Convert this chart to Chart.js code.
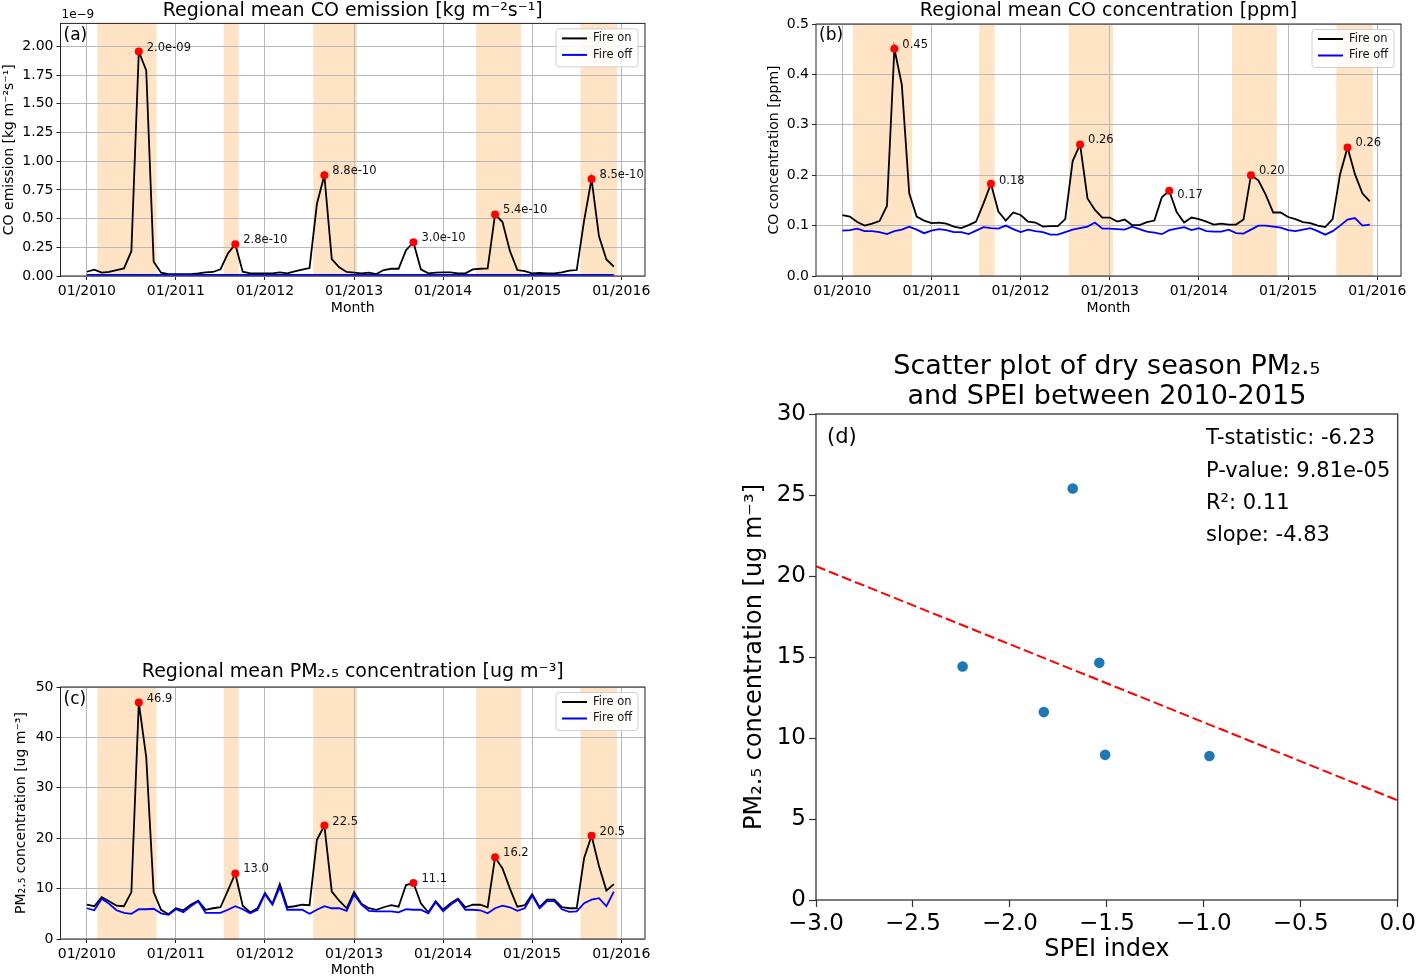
<!DOCTYPE html>
<html><head><meta charset="utf-8">
<script src="https://cdn.jsdelivr.net/npm/chart.js@4.4.1/dist/chart.umd.min.js"></script>
<style>
html,body{margin:0;padding:0;background:#fff;overflow:hidden;width:1419px;height:979px;}
canvas{position:absolute;}
</style></head><body>
<canvas id="ca" width="680" height="320" style="left:0px;top:0px;width:680px;height:320px"></canvas>
<canvas id="cb" width="679" height="320" style="left:740px;top:0px;width:679px;height:320px"></canvas>
<canvas id="cc" width="680" height="319" style="left:0px;top:660px;width:680px;height:319px"></canvas>
<canvas id="cd" width="699" height="639" style="left:720px;top:340px;width:699px;height:639px"></canvas>
<script>
// ---------- shared time axis ----------
const monthTicks = [0, 12, 24, 36, 48, 60, 72];
const monthTickLabels = ['01/2010','01/2011','01/2012','01/2013','01/2014','01/2015','01/2016'];
const drySeasonStart = [1.42, 18.42, 30.5, 52.45, 66.5];
const drySeasonEnd   = [9.4, 20.48, 36.42, 58.5, 71.42];
const peakIndex = [7, 20, 32, 44, 55, 68];

// ---------- (a) CO emission, units of 1e-9 kg m-2 s-1 ----------
const coEmisFireOn = [
  0.037,0.055,0.029,0.035,0.052,0.066,0.216,1.955,1.790,0.124,0.029,0.017,
  0.017,0.017,0.017,0.023,0.032,0.035,0.058,0.196,0.277,0.037,0.023,0.023,
  0.023,0.023,0.032,0.023,0.040,0.055,0.069,0.629,0.877,0.147,0.075,0.035,
  0.030,0.023,0.029,0.017,0.052,0.063,0.063,0.225,0.294,0.058,0.023,0.029,
  0.032,0.032,0.023,0.023,0.058,0.063,0.066,0.536,0.470,0.219,0.052,0.043,
  0.023,0.026,0.023,0.023,0.032,0.046,0.052,0.484,0.845,0.346,0.144,0.081];
const coEmisFireOff = [
  0.010,0.010,0.010,0.010,0.010,0.010,0.010,0.010,0.010,0.010,0.010,0.010,
  0.010,0.010,0.010,0.010,0.010,0.010,0.010,0.010,0.010,0.010,0.010,0.010,
  0.010,0.010,0.010,0.010,0.010,0.010,0.010,0.010,0.010,0.010,0.010,0.010,
  0.010,0.010,0.010,0.010,0.010,0.010,0.010,0.010,0.010,0.010,0.010,0.010,
  0.010,0.010,0.010,0.010,0.010,0.010,0.010,0.010,0.010,0.010,0.010,0.010,
  0.010,0.010,0.010,0.010,0.010,0.010,0.010,0.010,0.010,0.010,0.010,0.010];
const coEmisPeakLabels = ['2.0e-09','2.8e-10','8.8e-10','3.0e-10','5.4e-10','8.5e-10'];
const coEmisTicks = [0,0.25,0.5,0.75,1.0,1.25,1.5,1.75,2.0];

// ---------- (b) CO concentration, ppm ----------
const coConcFireOn = [
  0.121,0.118,0.107,0.100,0.104,0.109,0.139,0.451,0.380,0.164,0.118,0.110,
  0.105,0.106,0.104,0.098,0.095,0.101,0.108,0.144,0.183,0.128,0.110,0.126,
  0.121,0.108,0.106,0.098,0.099,0.099,0.113,0.228,0.261,0.154,0.131,0.116,
  0.116,0.108,0.112,0.101,0.101,0.107,0.110,0.156,0.169,0.127,0.106,0.116,
  0.113,0.108,0.102,0.104,0.102,0.102,0.112,0.200,0.190,0.161,0.126,0.126,
  0.117,0.113,0.107,0.105,0.100,0.097,0.113,0.202,0.255,0.202,0.164,0.148];
const coConcFireOff = [
  0.090,0.091,0.094,0.089,0.089,0.087,0.083,0.089,0.092,0.098,0.092,0.085,
  0.090,0.093,0.091,0.087,0.087,0.083,0.090,0.097,0.095,0.094,0.100,0.093,
  0.087,0.092,0.089,0.087,0.082,0.082,0.087,0.092,0.095,0.098,0.106,0.094,
  0.094,0.093,0.092,0.098,0.093,0.088,0.086,0.083,0.091,0.094,0.097,0.091,
  0.095,0.089,0.088,0.088,0.092,0.085,0.084,0.092,0.100,0.100,0.098,0.096,
  0.091,0.089,0.092,0.095,0.089,0.082,0.089,0.100,0.112,0.115,0.100,0.102];
const coConcPeakLabels = ['0.45','0.18','0.26','0.17','0.20','0.26'];
const coConcTicks = [0,0.1,0.2,0.3,0.4,0.5];

// ---------- (c) PM2.5 concentration, ug m-3 ----------
const pmFireOn = [
  6.8,6.5,8.3,7.5,6.6,6.5,9.3,46.9,36.1,9.3,5.8,4.9,
  6.1,5.7,6.8,7.6,5.8,6.1,6.3,9.6,13.0,6.6,5.3,6.1,
  9.1,7.0,10.9,6.3,6.5,6.8,6.7,19.7,22.5,9.4,7.6,6.1,
  9.3,7.0,6.1,5.8,6.3,6.7,6.4,10.7,11.1,7.1,5.3,7.5,
  5.8,7.1,8.0,6.3,6.8,6.8,6.3,16.2,14.0,10.0,6.4,6.7,
  8.9,6.3,7.8,7.8,6.3,6.1,6.1,16.1,20.5,14.5,9.6,10.9];
const pmFireOff = [
  6.1,5.7,8.0,7.0,5.7,5.2,5.0,5.9,5.9,6.0,5.1,4.8,
  5.9,5.3,6.5,7.5,5.2,5.2,5.2,5.8,6.5,5.9,5.1,5.8,
  8.9,6.8,10.3,5.8,5.8,5.8,5.0,5.8,6.5,6.1,6.1,5.6,
  8.8,6.8,5.6,5.5,5.5,5.5,5.3,5.9,5.8,5.8,5.1,7.3,
  5.5,6.8,7.8,5.8,5.8,5.7,5.1,6.1,6.6,6.3,5.6,6.1,
  8.6,6.1,7.5,7.5,5.9,5.4,5.5,7.1,7.8,8.1,6.5,9.4];
const pmPeakLabels = ['46.9','13.0','22.5','11.1','16.2','20.5'];
const pmTicks = [0,10,20,30,40,50];

// ---------- (d) scatter PM2.5 vs SPEI ----------
const speiIndex = [-1.676, -2.244, -1.539, -1.825, -1.509, -0.971];
const dryPm = [25.4, 14.41, 14.64, 11.6, 8.96, 8.89];
const fitX = [-3.0, 0.0];
const fitY = [20.6, 6.15];
const statLines = ['T-statistic: -6.23', 'P-value: 9.81e-05', 'R\u00b2: 0.11', 'slope: -4.83'];
const speiTicks = [-3.0,-2.5,-2.0,-1.5,-1.0,-0.5,0.0];
const scatterYTicks = [0,5,10,15,20,25,30];

Chart.defaults.font.family = "'DejaVu Sans', sans-serif";
Chart.defaults.color = '#000';

function drawSpines(ctx, ca, color, lw){
  ctx.save(); ctx.strokeStyle = color; ctx.lineWidth = lw;
  ctx.strokeRect(ca.left, ca.top, ca.right - ca.left, ca.bottom - ca.top);
  ctx.restore();
}

function decor(o){
  return {
    id: 'decor',
    beforeDraw(chart){
      if (!o.bands) return;
      const ctx = chart.ctx, ca = chart.chartArea, x = chart.scales.x;
      ctx.save(); ctx.fillStyle = 'rgb(254,228,196)';
      for (let i = 0; i < drySeasonStart.length; i++){
        const a = x.getPixelForValue(drySeasonStart[i]);
        const b = x.getPixelForValue(drySeasonEnd[i]);
        ctx.fillRect(a, ca.top, b - a, ca.bottom - ca.top);
      }
      ctx.restore();
    },
    afterDatasetsDraw(chart){
      if (!o.peakLabels) return;
      const ctx = chart.ctx, x = chart.scales.x, y = chart.scales.y;
      ctx.save(); ctx.fillStyle = '#111'; ctx.font = "11.5px 'DejaVu Sans'";
      ctx.textBaseline = 'middle'; ctx.textAlign = 'left';
      peakIndex.forEach((idx, k) => {
        const px = x.getPixelForValue(idx), py = y.getPixelForValue(o.on[idx]);
        ctx.fillText(o.peakLabels[k], px + 8, py + o.labelDy[k]);
      });
      ctx.restore();
    },
    afterDraw(chart){
      const ctx = chart.ctx, ca = chart.chartArea;
      drawSpines(ctx, ca, o.spineColor || '#222', o.spineWidth || 1);
      ctx.save();
      if (o.legend){
        const bw = 82, bh = 38, bx = ca.right - 7 - bw, by = ca.top + 5.5, r = 3;
        ctx.beginPath();
        ctx.moveTo(bx + r, by); ctx.lineTo(bx + bw - r, by); ctx.quadraticCurveTo(bx + bw, by, bx + bw, by + r);
        ctx.lineTo(bx + bw, by + bh - r); ctx.quadraticCurveTo(bx + bw, by + bh, bx + bw - r, by + bh);
        ctx.lineTo(bx + r, by + bh); ctx.quadraticCurveTo(bx, by + bh, bx, by + bh - r);
        ctx.lineTo(bx, by + r); ctx.quadraticCurveTo(bx, by, bx + r, by); ctx.closePath();
        ctx.fillStyle = 'rgba(255,255,255,0.85)'; ctx.fill();
        ctx.strokeStyle = '#d0d0d0'; ctx.lineWidth = 1; ctx.stroke();
        const items = chart.data.datasets.filter(d => d.inLegend);
        ctx.font = "11.5px 'DejaVu Sans'"; ctx.textBaseline = 'middle'; ctx.textAlign = 'left';
        items.forEach((d, i) => {
          const yy = by + 9.5 + i * 16.5;
          ctx.strokeStyle = d.borderColor; ctx.lineWidth = 2;
          ctx.beginPath(); ctx.moveTo(bx + 6, yy); ctx.lineTo(bx + 31, yy); ctx.stroke();
          ctx.fillStyle = '#111'; ctx.fillText(d.label, bx + 37, yy);
        });
      }
      if (o.letter){
        ctx.fillStyle = '#000'; ctx.font = o.letterFont; ctx.textBaseline = 'middle'; ctx.textAlign = 'left';
        ctx.fillText(o.letter, ca.left + o.letterDx, ca.top + o.letterDy);
      }
      if (o.offsetText){
        ctx.fillStyle = '#000'; ctx.font = "12px 'DejaVu Sans'"; ctx.textBaseline = 'middle'; ctx.textAlign = 'left';
        ctx.fillText(o.offsetText, ca.left + 1, ca.top - 8.5);
      }
      if (o.notes){
        ctx.fillStyle = '#000'; ctx.font = "21px 'DejaVu Sans'"; ctx.textBaseline = 'middle'; ctx.textAlign = 'left';
        o.notes.forEach((t, i) => ctx.fillText(t, ca.left + 390, ca.top + 25 + i * 32.3));
      }
      ctx.restore();
    }
  };
}

function timeChart(id, o){
  const toXY = arr => arr.map((v, i) => ({x: i, y: v}));
  return new Chart(document.getElementById(id), {
    type: 'line',
    data: { datasets: [
      {label: 'Fire on', inLegend: true, data: toXY(o.on), borderColor: '#000000', borderWidth: 1.8, pointRadius: 0, tension: 0, order: 3},
      {label: 'Fire off', inLegend: true, data: toXY(o.off), borderColor: '#0000ff', borderWidth: 1.8, pointRadius: 0, tension: 0, order: 2},
      {type: 'scatter', label: 'peak', data: peakIndex.map(i => ({x: i, y: o.on[i]})), backgroundColor: '#ff0000', borderColor: '#ff0000', borderWidth: 0, pointRadius: 4, order: 1}
    ]},
    options: {
      responsive: false, animation: false, events: [],
      layout: {padding: o.padding},
      plugins: {
        legend: {display: false}, tooltip: {enabled: false},
        title: {display: true, text: o.title, fullSize: false, color: '#000',
                font: {size: 19, weight: 'normal'}, padding: o.titlePad}
      },
      scales: {
        x: {type: 'linear', min: -3.55, max: 75.2,
            afterBuildTicks: s => { s.ticks = monthTicks.map(v => ({value: v})); },
            afterFit: s => { s.height = o.xh; },
            ticks: {callback: (v, i) => monthTickLabels[i], autoSkip: false, maxRotation: 0, minRotation: 0,
                    font: {size: 14}, color: '#000', padding: 3},
            grid: {color: '#b8b8b8', lineWidth: 1, tickColor: '#222', tickLength: 4},
            border: {display: false},
            title: {display: true, text: 'Month', color: '#000', font: {size: 14}, padding: {top: 0, bottom: o.xtPad}}},
        y: {type: 'linear', min: 0, max: o.ymax,
            afterBuildTicks: s => { s.ticks = o.yTicks.map(v => ({value: v})); },
            afterFit: s => { s.width = o.yw; },
            ticks: {callback: v => v.toFixed(o.dec), font: {size: 14}, color: '#000', padding: 3},
            grid: {color: '#b8b8b8', lineWidth: 1, tickColor: '#222', tickLength: 4},
            border: {display: false},
            title: {display: true, text: o.ylabel, color: '#000', font: {size: 14}, padding: {top: o.ytPad, bottom: 0}}}
      }
    },
    plugins: [decor(o)]
  });
}

timeChart('ca', {
  on: coEmisFireOn, off: coEmisFireOff, peakLabels: coEmisPeakLabels, labelDy: [-4,-4,-4,-4,-4,-4],
  title: 'Regional mean CO emission [kg m\u207b\u00b2s\u207b\u00b9]', ylabel: 'CO emission [kg m\u207b\u00b2s\u207b\u00b9]',
  ymax: 2.2, yTicks: coEmisTicks, dec: 2,
  padding: {left: 0, right: 35, top: 0, bottom: 0}, titlePad: {top: 0, bottom: 0.6}, xh: 44, yw: 60.5, xtPad: 3.6, ytPad: 0.8,
  bands: true, legend: true, letter: '(a)', letterFont: "17px 'DejaVu Sans'", letterDx: 3, letterDy: 12, offsetText: '1e\u22129'
});
timeChart('cb', {
  on: coConcFireOn, off: coConcFireOff, peakLabels: coConcPeakLabels, labelDy: [-4,-3,-4,4,-4,-4],
  title: 'Regional mean CO concentration [ppm]', ylabel: 'CO concentration [ppm]',
  ymax: 0.5, yTicks: coConcTicks, dec: 1,
  padding: {left: 0, right: 18, top: 0, bottom: 0}, titlePad: {top: 0, bottom: 1.2}, xh: 44, yw: 76, xtPad: 3.6, ytPad: 25.6,
  bands: true, legend: true, letter: '(b)', letterFont: "17px 'DejaVu Sans'", letterDx: 3, letterDy: 12
});
timeChart('cc', {
  on: pmFireOn, off: pmFireOff, peakLabels: pmPeakLabels, labelDy: [-4,-4,-4,-4,-4,-4],
  title: 'Regional mean PM\u2082.\u2085 concentration [ug m\u207b\u00b3]', ylabel: 'PM\u2082.\u2085 concentration [ug m\u207b\u00b3]',
  ymax: 50, yTicks: pmTicks, dec: 0,
  padding: {left: 0, right: 35, top: 0, bottom: 0}, titlePad: {top: 0.6, bottom: 3.6}, xh: 40, yw: 60.5, xtPad: 0.6, ytPad: 12.6,
  bands: true, legend: true, letter: '(c)', letterFont: "17px 'DejaVu Sans'", letterDx: 3, letterDy: 13
});

new Chart(document.getElementById('cd'), {
  type: 'scatter',
  data: { datasets: [
    {label: 'dry season', data: speiIndex.map((v, i) => ({x: v, y: dryPm[i]})), backgroundColor: '#1f77b4', borderColor: '#1f77b4', borderWidth: 0, pointRadius: 5.3, order: 2},
    {type: 'line', label: 'fit', data: fitX.map((v, i) => ({x: v, y: fitY[i]})), borderColor: '#ff0000', borderWidth: 2, borderDash: [10, 4], pointRadius: 0, fill: false, order: 1}
  ]},
  options: {
    responsive: false, animation: false, events: [],
    layout: {padding: {left: 0, right: 18, top: 0, bottom: 0}},
    plugins: {
      legend: {display: false}, tooltip: {enabled: false},
      title: {display: true, text: ['Scatter plot of dry season PM\u2082.\u2085', 'and SPEI between 2010-2015'], fullSize: false,
              color: '#000', font: {size: 27, weight: 'normal', lineHeight: 1.1}, padding: {top: 12, bottom: 2.6}}
    },
    scales: {
      x: {type: 'linear', min: -3, max: 0,
          afterBuildTicks: s => { s.ticks = speiTicks.map(v => ({value: v})); },
          afterFit: s => { s.height = 79; },
          ticks: {callback: v => v.toFixed(1).replace('-', '\u2212'), autoSkip: false, maxRotation: 0, font: {size: 23}, color: '#000', padding: 3},
          grid: {display: true, drawOnChartArea: false, drawTicks: true, tickLength: 7, tickColor: '#333', tickWidth: 1.2},
          border: {display: false},
          title: {display: true, text: 'SPEI index', color: '#000', font: {size: 24}, padding: {top: 0, bottom: 14.6}}},
      y: {type: 'linear', min: 0, max: 30,
          afterBuildTicks: s => { s.ticks = scatterYTicks.map(v => ({value: v})); },
          afterFit: s => { s.width = 96; },
          ticks: {callback: v => String(v), font: {size: 23}, color: '#000', padding: 3},
          grid: {display: true, drawOnChartArea: false, drawTicks: true, tickLength: 7, tickColor: '#333', tickWidth: 1.2},
          border: {display: false},
          title: {display: true, text: 'PM\u2082.\u2085 concentration [ug m\u207b\u00b3]', color: '#000', font: {size: 24}, padding: {top: 20.6, bottom: 0}}}
    }
  },
  plugins: [decor({spineColor: '#333', spineWidth: 1.3, letter: '(d)', letterFont: "21px 'DejaVu Sans'", letterDx: 11, letterDy: 24, notes: statLines})]
});
</script>
</body></html>
